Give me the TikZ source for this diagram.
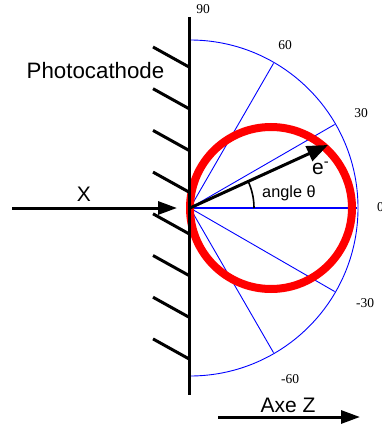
\documentclass[tikz,border=0pt]{standalone}
\usepackage{fontspec}
\setmainfont{Liberation Sans}
\newfontfamily\numfont{Liberation Serif}
\usetikzlibrary{arrows.meta}
\begin{document}
\begin{tikzpicture}[x=1pt,y=1pt,
  blk/.style={line width=3pt, black},
  hatchline/.style={line width=3pt, black},
  bluel/.style={blue, line width=0.9pt},
  bluezero/.style={blue, line width=1.6pt},
  lbl/.style={font=\fontsize{21}{24}\selectfont, inner sep=0pt},
  small/.style={font=\fontsize{16.3}{18}\selectfont, inner sep=0pt},
  num/.style={font=\numfont\fontsize{13.5}{15}\selectfont, inner sep=0pt},
  bigtip/.style={-{Triangle[length=19pt,width=13pt]}},
  etip/.style={-{Triangle[length=21pt,width=16pt]}}
]
\useasboundingbox (0,0) rectangle (381,-428);
% origin on the photocathode
\coordinate (O) at (190,-208);
% blue polar grid
\path (O) ++(90:168) coordinate (a90);
\path (O) ++(60:167) coordinate (a60);
\path (O) ++(30:167) coordinate (a30);
\path (O) ++(0:167) coordinate (a0);
\path (O) ++(-30:167) coordinate (am30);
\path (O) ++(-60:167) coordinate (am60);
\draw[bluel] (a90) arc[start angle=90, end angle=-90, radius=168];
\draw[bluel] (O) -- (a60);
\draw[bluel] (O) -- (a30);
\draw[bluezero] (O) -- (a0);
\draw[bluel] (O) -- (am30);
\draw[bluel] (O) -- (am60);
% angle labels
\node[num] (l90) at (203,-9) {90};
\node[num] (l60) at (285,-45) {60};
\node[num] (l30) at (361,-113) {30};
\node[num, anchor=west] (l0) at (377,-207) {0};
\node[num] (lm30) at (365,-303) {-30};
\node[num] (lm60) at (290,-379) {-60};
% red emission lobe
\draw[red, line width=8pt] (271,-208) circle[radius=81];
% photocathode
\coordinate (ctop) at (189,-17);
\coordinate (cbot) at (189,-395);
\draw[blk] (ctop) -- (cbot);
\foreach \i in {0,...,7} {
  \coordinate (h\i a) at (153,{-47-41.7*\i});
  \coordinate (h\i b) at (189,{-67-41.7*\i});
  \draw[hatchline] (h\i a) -- (h\i b);
}
\node[lbl, font=\fontsize{22.3}{25}\selectfont, anchor=base] (pc) at (95.5,-78) {Photocathode};
% incoming X
\coordinate (xs) at (12,-208);
\coordinate (xe) at (177,-208);
\draw[blk, bigtip] (xs) -- (xe);
\node[lbl, anchor=base] (xl) at (84,-201) {X};
% electron
\coordinate (et) at (328,-145);
\draw[blk, etip] (O) -- (et);
\node[lbl, anchor=base west] (el) at (312,-174) {e\textsuperscript{-}};
% angle
\draw[black, line width=1.6pt] (O) ++(0:64) arc[start angle=0, end angle=25, radius=64];
\node[small, anchor=base west] (al) at (262,-197) {angle θ};
% axis Z
\coordinate (zs) at (218,-417);
\coordinate (ze) at (360,-417);
\draw[blk, bigtip] (zs) -- (ze);
\node[lbl, anchor=base] (zl) at (288,-412) {Axe Z};
\end{tikzpicture}
\end{document}
